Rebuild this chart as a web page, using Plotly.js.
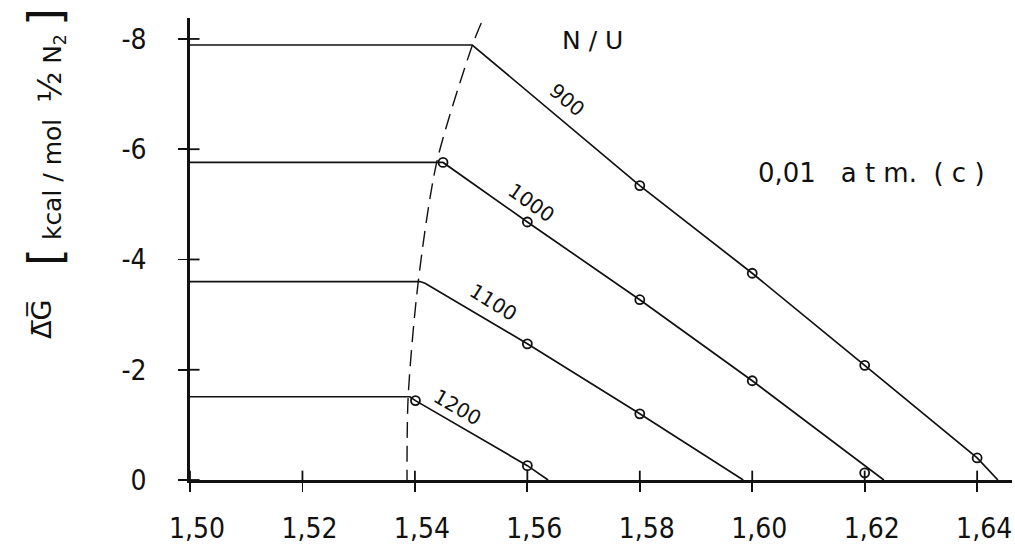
<!DOCTYPE html>
<html>
<head>
<meta charset="utf-8">
<script src="https://cdn.plot.ly/plotly-3.0.1.min.js"></script>
<style>html,body{margin:0;padding:0;background:#fff;}#chart{width:1015px;height:552px;}</style>
</head>
<body>
<div id="chart"></div>
<script>
// ---- data ----
const xTickVals = [1.50, 1.52, 1.54, 1.56, 1.58, 1.60, 1.62, 1.64];
const xTickText = ['1,50', '1,52', '1,54', '1,56', '1,58', '1,60', '1,62', '1,64'];
const yTickVals = [0, -2, -4, -6, -8];
const yTickText = ['0', '-2', '-4', '-6', '-8'];

// N/U = 900
const line900X = [1.50, 1.5502, 1.58, 1.60, 1.62, 1.64, 1.6437];
const line900Y = [-7.89, -7.89, -5.34, -3.75, -2.08, -0.40, 0];
const pts900X = [1.58, 1.60, 1.62, 1.64];
const pts900Y = [-5.34, -3.75, -2.08, -0.40];
// N/U = 1000
const line1000X = [1.50, 1.5450, 1.56, 1.58, 1.60, 1.6234];
const line1000Y = [-5.76, -5.76, -4.68, -3.27, -1.80, 0];
const pts1000X = [1.5450, 1.56, 1.58, 1.60, 1.62];
const pts1000Y = [-5.76, -4.68, -3.27, -1.80, -0.13];
// N/U = 1100
const line1100X = [1.50, 1.5409, 1.5418, 1.56, 1.58, 1.5984];
const line1100Y = [-3.60, -3.60, -3.57, -2.47, -1.20, 0];
const pts1100X = [1.56, 1.58];
const pts1100Y = [-2.47, -1.20];
// N/U = 1200
const line1200X = [1.50, 1.5391, 1.5401, 1.56, 1.5637];
const line1200Y = [-1.51, -1.51, -1.44, -0.26, 0];
const pts1200X = [1.5401, 1.56];
const pts1200Y = [-1.44, -0.26];
// dashed phase boundary
const boundX = [1.5518, 1.5502, 1.5439, 1.5406, 1.5388, 1.5386];
const boundY = [-8.29, -7.88, -5.77, -3.60, -1.51, 0];

const curveLabels = ['900', '1000', '1100', '1200'];
const labelX = [1.5671, 1.5608, 1.5539, 1.5475];
const labelY = [-6.89, -5.03, -3.23, -1.32];
const labelAngle = [40, 35, 32, 30];

const FONT = 'Liberation Sans Narrow, DejaVu Sans Condensed, DejaVu Sans, sans-serif';
const FONT2 = 'DejaVu Sans, Liberation Sans, sans-serif';
const lineStyle = {color: '#111', width: 1.7};
const markerStyle = {symbol: 'circle-open', size: 9, color: '#111', line: {width: 1.8, color: '#111'}};

function lineTrace(x, y) {
  return {x: x, y: y, type: 'scatter', mode: 'lines', line: lineStyle, hoverinfo: 'skip', showlegend: false};
}
function ptsTrace(x, y) {
  return {x: x, y: y, type: 'scatter', mode: 'markers', marker: markerStyle, hoverinfo: 'skip', showlegend: false};
}

const X0 = xTickVals[0], Y0 = yTickVals[0];
const traces = [
  lineTrace(line900X, line900Y), ptsTrace(pts900X, pts900Y),
  lineTrace(line1000X, line1000Y), ptsTrace(pts1000X, pts1000Y),
  lineTrace(line1100X, line1100Y), ptsTrace(pts1100X, pts1100Y),
  lineTrace(line1200X, line1200Y), ptsTrace(pts1200X, pts1200Y),
  {x: boundX, y: boundY, type: 'scatter', mode: 'lines',
   line: {color: '#111', width: 1.4, dash: '16px,8px', shape: 'spline', smoothing: 0.8},
   hoverinfo: 'skip', showlegend: false}
];

// inner halves of the crossing tick marks, anchored on the tick values
const tickLine = {color: '#111', width: 1.8};
const shapes = xTickVals.map(v => ({type: 'line', xref: 'x', yref: 'y', x0: v, x1: v, y0: Y0, y1: Y0 - 0.17, line: tickLine}))
  .concat(yTickVals.map(v => ({type: 'line', xref: 'x', yref: 'y', x0: X0, x1: X0 + 0.0017, y0: v, y1: v, line: tickLine})));

const annotations = curveLabels.map((t, i) => ({
  x: labelX[i], y: labelY[i], xref: 'x', yref: 'y', text: t, showarrow: false,
  textangle: labelAngle[i], font: {family: FONT2, size: 20, color: '#111'}
}));
annotations.push({x: 1.5715, y: -7.98, xref: 'x', yref: 'y', text: 'N / U', showarrow: false,
  font: {family: FONT2, size: 25, color: '#111'}});
annotations.push({x: 1.6212, y: -5.57, xref: 'x', yref: 'y', text: '0,01&nbsp;&nbsp; a t m.&nbsp; ( c )', showarrow: false,
  font: {family: FONT2, size: 26, color: '#111'}});
// y-axis title pieces (pixel positions, converted to paper below)
annotations.push({x: 41, y: 320, xref: 'paper', yref: 'paper', xanchor: 'center', yanchor: 'middle',
  text: 'Δ\u0305G\u0305', showarrow: false,
  textangle: -90, font: {family: FONT2, size: 27, color: '#111'}});
annotations.push({x: 45, y: 137, xref: 'paper', yref: 'paper', xanchor: 'center', yanchor: 'middle',
  text: '<span style="font-size:46px">[</span> kcal / mol  <span style="font-size:32px">½</span> N<sub>2</sub> <span style="font-size:46px">]</span>',
  showarrow: false, textangle: -90, font: {family: FONT2, size: 25, color: '#111'}});

const W = 1015, H = 552, ML = 190, MR = 3, MT = 18, MB = 72;
annotations.forEach(a => {
  if (a.xref === 'paper') {
    a.x = (a.x - ML) / (W - ML - MR);
    a.y = (H - MB - a.y) / (H - MT - MB);
  }
});

const baseAxis = {showgrid: false, zeroline: false, color: '#111'};
const layout = {
  width: W, height: H,
  margin: {l: ML, r: MR, t: MT, b: MB, pad: 0},
  paper_bgcolor: '#fff', plot_bgcolor: '#fff',
  showlegend: false,
  xaxis: Object.assign({}, baseAxis, {
    range: [1.50, 1.6462], tickvals: xTickVals, ticktext: xTickText,
    ticks: 'outside', ticklen: 9, tickwidth: 1.8, tickcolor: '#111',
    showline: true, linewidth: 2.8, linecolor: '#111', ticklabeloverflow: 'allow',
    tickfont: {family: FONT, size: 28, color: '#111'}, ticklabelstandoff: 13, ticklabelshift: 7
  }),
  yaxis: Object.assign({}, baseAxis, {
    range: [0, -8.38], tickvals: yTickVals, ticktext: yTickText,
    ticks: 'outside', ticklen: 9, tickwidth: 1.8, tickcolor: '#111',
    showline: true, linewidth: 2.8, linecolor: '#111',
    tickfont: {family: FONT, size: 28, color: '#111'}, ticklabelstandoff: 26
  }),
  shapes: shapes,
  annotations: annotations
};

Plotly.newPlot('chart', traces, layout, {staticPlot: true, displayModeBar: false});
</script>
</body>
</html>
